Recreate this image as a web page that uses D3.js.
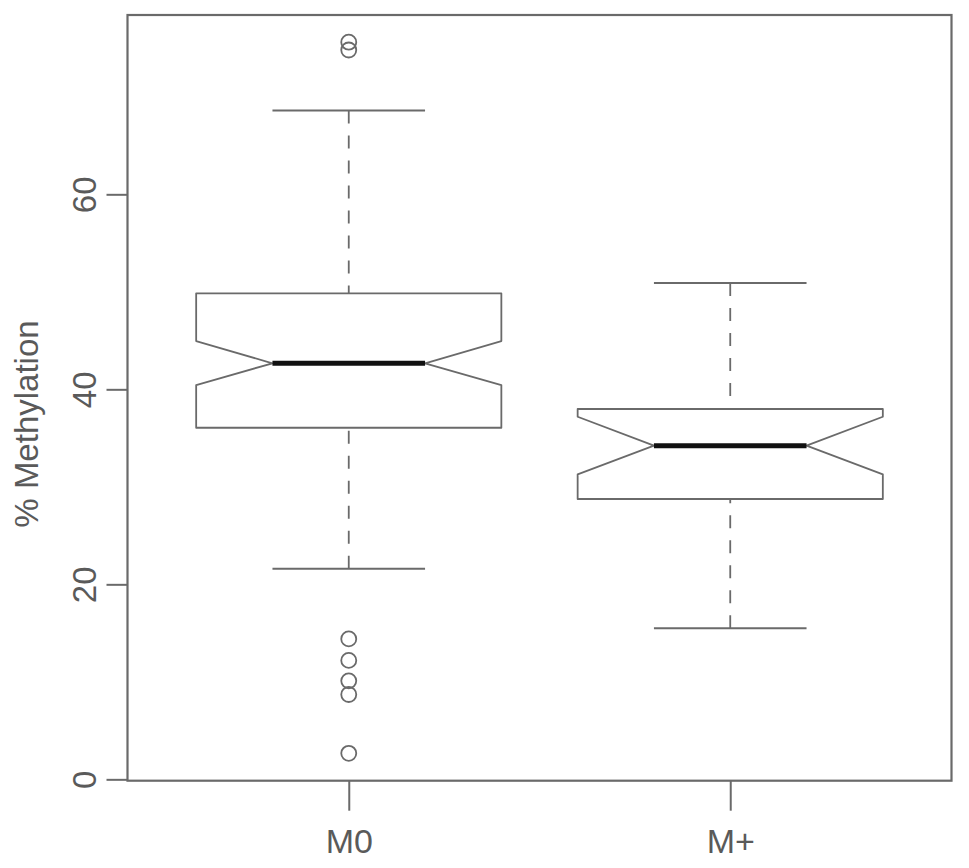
<!DOCTYPE html>
<html>
<head>
<meta charset="utf-8">
<script src="https://cdn.jsdelivr.net/npm/d3@7.9.0/dist/d3.min.js"></script>
<style>
  body { margin: 0; background: #fff; }
  text { font-family: 'Liberation Sans', Arial, sans-serif; fill: #5a5a5a; }
</style>
</head>
<body>
<div id="chart"></div>
<script>
// values
const groups = ['M0', 'M+'];
const whiskerLow = [21.6, 15.5];
const q1 = [36.06, 28.75];
const median = [42.67, 34.22];
const q3 = [49.85, 37.98];
const whiskerHigh = [68.6, 50.9];
const notchLow = [40.44, 31.28];
const notchHigh = [44.95, 37.19];
const outliersM0 = [75.6, 74.8, 14.4, 12.2, 10.1, 8.7, 2.67];
const outliersMplus = [];
const yTicks = [0, 20, 40, 60];

const width = 969;
const height = 868;

const svg = d3.select('#chart')
  .append('svg')
  .attr('width', width)
  .attr('height', height);

// boxes sit at 1 and 2, padded like R does
const xScale = d3.scaleLinear()
  .domain([0.42, 2.58])
  .range([127.5, 951.5]);

const yScale = d3.scaleLinear()
  .domain([-0.14, 78.39])
  .range([780.7, 15]);

const boxes = groups.map((g, i) => ({
  name: g,
  pos: i + 1,
  lo: whiskerLow[i],
  q1: q1[i],
  med: median[i],
  q3: q3[i],
  hi: whiskerHigh[i],
  nlo: notchLow[i],
  nhi: notchHigh[i],
  out: i === 0 ? outliersM0 : outliersMplus,
}));

const halfW = 0.4;
const grey = '#6a6a6a';

// y axis
const yAxis = svg.append('g')
  .attr('transform', `translate(${xScale.range()[0]},0)`)
  .call(d3.axisLeft(yScale).tickValues(yTicks).tickSize(21).tickSizeOuter(0));
yAxis.select('.domain').remove();
yAxis.selectAll('line').attr('stroke', grey).attr('stroke-width', 2);
yAxis.selectAll('text')
  .attr('x', null)
  .attr('dy', null)
  .attr('text-anchor', 'middle')
  .attr('transform', 'translate(-32,0) rotate(-90)')
  .style('font-size', '33px')
  .style('font-family', "'Liberation Sans', Arial, sans-serif")
  .attr('fill', '#5a5a5a');

// x axis
const xAxis = svg.append('g')
  .attr('transform', `translate(0,${yScale.range()[0]})`)
  .call(d3.axisBottom(xScale).tickValues([1, 2]).tickFormat((d) => groups[d - 1]).tickSize(30).tickSizeOuter(0));
xAxis.select('.domain').remove();
xAxis.selectAll('line').attr('stroke', grey).attr('stroke-width', 2);
xAxis.selectAll('text')
  .attr('y', 72)
  .attr('dy', null)
  .style('font-size', '34px')
  .style('font-family', "'Liberation Sans', Arial, sans-serif")
  .attr('fill', '#5a5a5a');

// axis title
svg.append('text')
  .attr('transform', `translate(38,424) rotate(-90)`)
  .attr('text-anchor', 'middle')
  .style('font-size', '33px')
  .text('% Methylation');

const g = svg.append('g');

const box = g.selectAll('g.box')
  .data(boxes)
  .join('g')
  .attr('class', 'box');

// dashed whiskers, drawn from the cap toward the box
box.append('line')
  .attr('x1', (d) => xScale(d.pos))
  .attr('x2', (d) => xScale(d.pos))
  .attr('y1', (d) => yScale(d.hi))
  .attr('y2', (d) => yScale(d.q3))
  .attr('stroke', grey)
  .attr('stroke-width', 1.8)
  .attr('stroke-dasharray', '13,12');

box.append('line')
  .attr('x1', (d) => xScale(d.pos))
  .attr('x2', (d) => xScale(d.pos))
  .attr('y1', (d) => yScale(d.lo))
  .attr('y2', (d) => yScale(d.q1))
  .attr('stroke', grey)
  .attr('stroke-width', 1.8)
  .attr('stroke-dasharray', '13,12');

// caps
box.selectAll('line.cap')
  .data((d) => [d, d].map((b, k) => ({ pos: b.pos, v: k ? b.lo : b.hi })))
  .join('line')
  .attr('class', 'cap')
  .attr('x1', (d) => xScale(d.pos - halfW / 2))
  .attr('x2', (d) => xScale(d.pos + halfW / 2))
  .attr('y1', (d) => yScale(d.v))
  .attr('y2', (d) => yScale(d.v))
  .attr('stroke', grey)
  .attr('stroke-width', 2);

// notched box outline
box.append('path')
  .attr('d', (d) => {
    const pts = [
      [d.pos - halfW, d.q1],
      [d.pos - halfW, d.nlo],
      [d.pos - halfW / 2, d.med],
      [d.pos - halfW, d.nhi],
      [d.pos - halfW, d.q3],
      [d.pos + halfW, d.q3],
      [d.pos + halfW, d.nhi],
      [d.pos + halfW / 2, d.med],
      [d.pos + halfW, d.nlo],
      [d.pos + halfW, d.q1],
    ];
    return d3.line().x((p) => xScale(p[0])).y((p) => yScale(p[1]))(pts) + 'Z';
  })
  .attr('fill', 'white')
  .attr('stroke', grey)
  .attr('stroke-width', 1.8)
  .attr('stroke-linejoin', 'round');

// median
box.append('line')
  .attr('x1', (d) => xScale(d.pos - halfW / 2))
  .attr('x2', (d) => xScale(d.pos + halfW / 2))
  .attr('y1', (d) => yScale(d.med))
  .attr('y2', (d) => yScale(d.med))
  .attr('stroke', '#111')
  .attr('stroke-width', 5);

// outliers
box.selectAll('circle')
  .data((d) => d.out.map((v) => ({ pos: d.pos, v })))
  .join('circle')
  .attr('cx', (d) => xScale(d.pos))
  .attr('cy', (d) => yScale(d.v))
  .attr('r', 7.5)
  .attr('fill', 'none')
  .attr('stroke', grey)
  .attr('stroke-width', 1.8);

// frame
svg.append('rect')
  .attr('x', xScale.range()[0])
  .attr('y', yScale.range()[1])
  .attr('width', xScale.range()[1] - xScale.range()[0])
  .attr('height', yScale.range()[0] - yScale.range()[1])
  .attr('fill', 'none')
  .attr('stroke', grey)
  .attr('stroke-width', 2.2);
</script>
</body>
</html>
